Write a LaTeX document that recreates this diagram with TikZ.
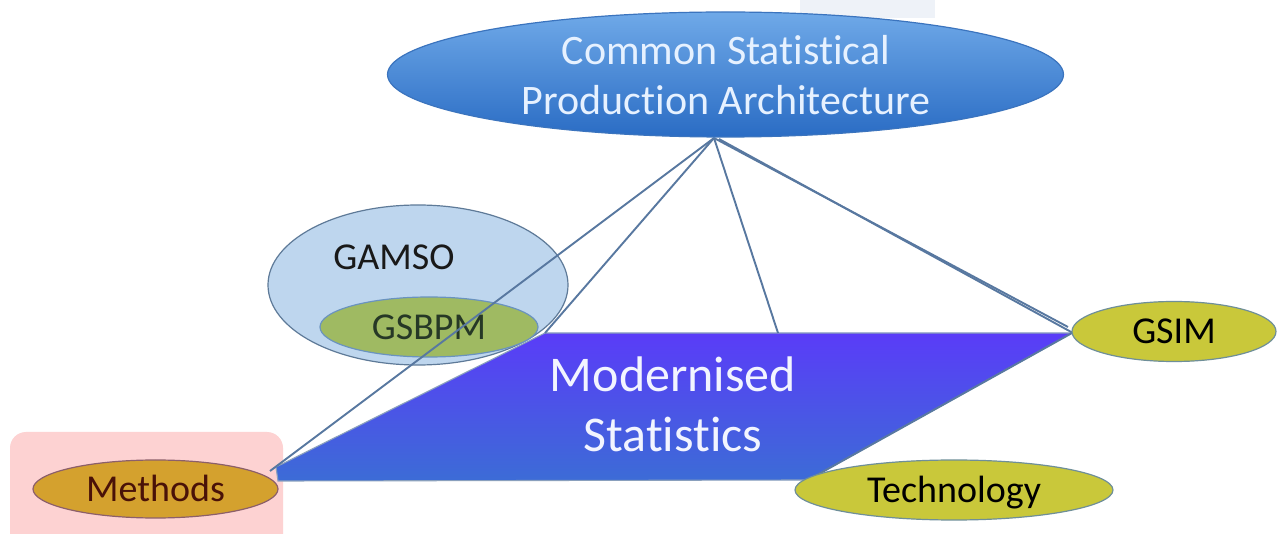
\documentclass[tikz,border=0pt]{standalone}
\usepackage{fontspec}
\setmainfont[RawFeature={-liga;-clig;-dlig;-calt}]{Carlito}
\usetikzlibrary{shapes.geometric}
\definecolor{topgray}{HTML}{EEF2F8}
\definecolor{pinkbg}{HTML}{FDD2D2}
\definecolor{cspatop}{HTML}{6FA9E8}
\definecolor{cspabot}{HTML}{2A6CC4}
\definecolor{cspaedge}{HTML}{3B74BE}
\definecolor{cspatext}{HTML}{E6F1FF}
\definecolor{paratop}{HTML}{5A3CF8}
\definecolor{parabot}{HTML}{3C6CD6}
\definecolor{paratext}{HTML}{F2F4FF}
\definecolor{gamsofill}{HTML}{BED6EE}
\definecolor{gamsoedge}{HTML}{5E7A98}
\definecolor{gsbpmfill}{HTML}{9FBA62}
\definecolor{gsbpmedge}{HTML}{6A93BF}
\definecolor{gsbpmtext}{HTML}{263826}
\definecolor{methfill}{HTML}{D4A12E}
\definecolor{methedge}{HTML}{8C5F6A}
\definecolor{methtext}{HTML}{4A1208}
\definecolor{yelfill}{HTML}{C9C83A}
\definecolor{yeledge}{HTML}{6F8F99}
\definecolor{linec}{HTML}{5878A0}
\begin{document}
\begin{tikzpicture}[x=1pt,y=-1pt,
  every node/.style={inner sep=0pt, outer sep=0pt},
  oval/.style={ellipse, line width=1.2pt},
  small/.style={font=\fontsize{38}{46}\selectfont, text height=24.5pt, text depth=0pt},
  lbl/.style={font=\fontsize{38}{46}\selectfont, anchor=base},
  conn/.style={draw=linec, line width=1.9pt},
  yel/.style={oval, fill=yelfill, draw=yeledge, text=black, small}
]
\useasboundingbox (0,0) rectangle (1278,534);
\fill[white] (0,0) rectangle (1278,534);
\fill[topgray] (800,0) rectangle (935,18);
\fill[pinkbg, rounded corners=16pt] (10,432) rectangle (283,570);

% GAMSO / GSBPM
\node[oval, minimum width=300pt, minimum height=160pt, fill=gamsofill, draw=gamsoedge] (gamso) at (418,285) {};
\node[lbl, text=black!90] (gamsolbl) at (394,270) {GAMSO};
\node[oval, minimum width=218pt, minimum height=60pt, fill=gsbpmfill, draw=gsbpmedge, small, text=gsbpmtext] (gsbpm) at (429,327) {GSBPM};

% Modernised Statistics shape
\coordinate (pL) at (276,467);
\coordinate (pTL) at (545,333);
\coordinate (pTop) at (778,333);
\coordinate (pTR) at (1072,333);
\coordinate (pBR) at (808,480);
\coordinate (pBL) at (278,481);
\shade[top color=paratop, bottom color=parabot, draw=linec!70, line width=1.1pt]
  (pL) -- (pTL) -- (pTR) -- (pBR) -- (pBL) -- cycle;
\node[font=\fontsize{50}{60}\selectfont, text=paratext, align=center] (modlbl) at (673,404.5) {Modernised\\Statistics};

% connectors from CSPA
\coordinate (apex) at (714,138);
\coordinate (apexb) at (719,139);
\coordinate (mtip) at (270,471);
\coordinate (gtipa) at (1068,327);
\coordinate (gtipb) at (1073,333);
\draw[conn] (apex) -- (mtip);
\draw[conn] (apex) -- (pTL);
\draw[conn] (apex) -- (pTop);
\draw[conn] (apex) -- (gtipa);
\draw[conn] (apexb) -- (gtipb);
\draw[conn] (pTR) -- (pBR);

% CSPA
\node[oval, minimum width=676pt, minimum height=125pt, top color=cspatop, bottom color=cspabot, draw=cspaedge] (cspa) at (725.5,74.5) {};
\node[font=\fontsize{42}{50.5}\selectfont, text=cspatext, align=center] (cspalbl) at (726,75) {Common Statistical\\Production Architecture};

% leaf ovals
\node[oval, minimum width=245pt, minimum height=58pt, fill=methfill, draw=methedge, text=methtext, small] (methods) at (155.5,489) {Methods};
\node[yel, minimum width=204pt, minimum height=60pt] (gsim) at (1174,331.5) {GSIM};
\node[yel, minimum width=318pt, minimum height=60pt] (tech) at (954,490) {Technology};
\end{tikzpicture}
\end{document}
